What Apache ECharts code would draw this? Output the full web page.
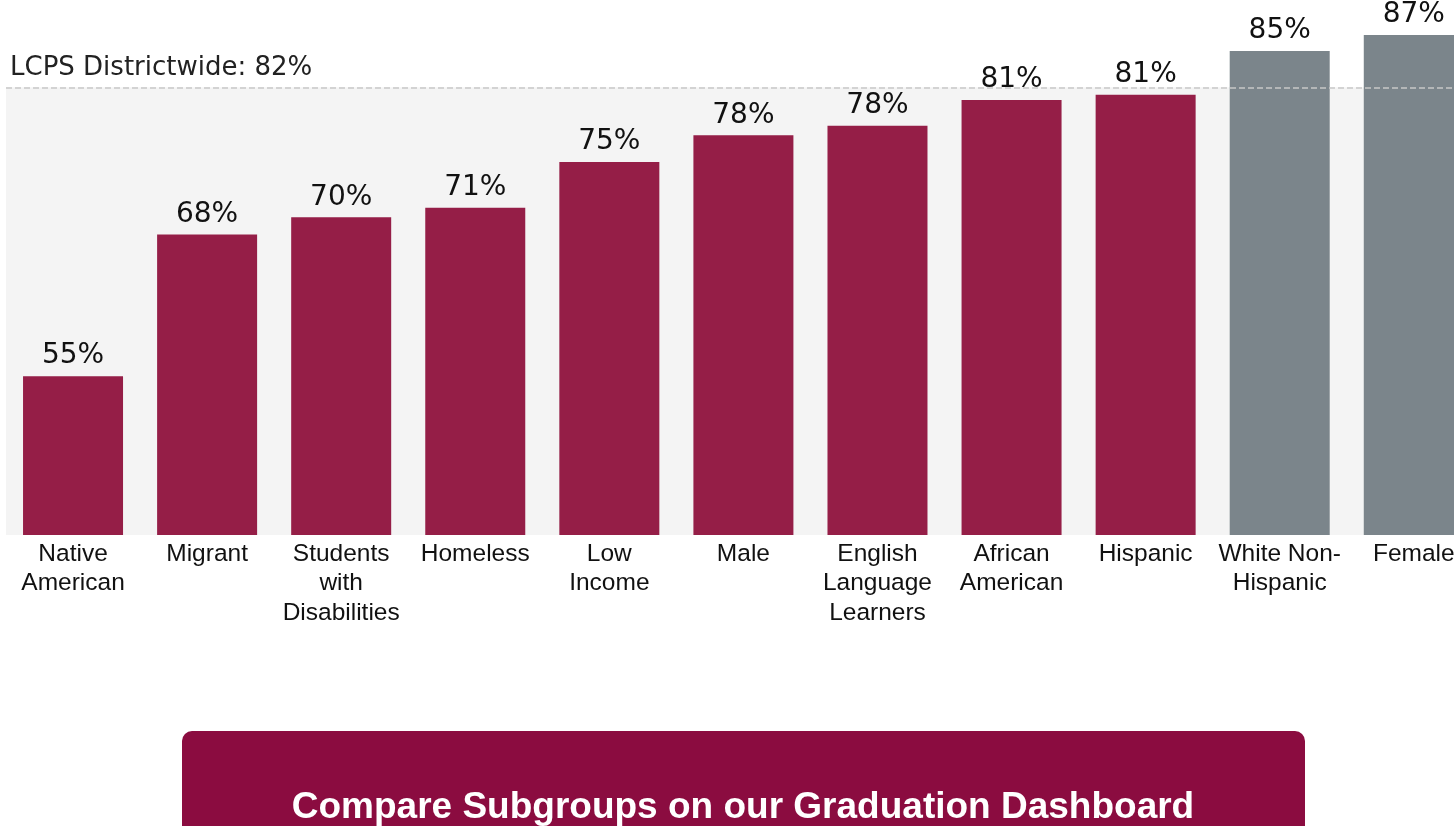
<!DOCTYPE html>
<html>
<head>
<meta charset="utf-8">
<script src="https://cdn.jsdelivr.net/npm/echarts@6/dist/echarts.min.js"></script>
<style>
html,body{margin:0;padding:0;background:#fff;}
#chart{width:1454px;height:826px;}
</style>
</head>
<body>
<div id="chart"></div>
<script>
const categories = ["Native\nAmerican","Migrant","Students\nwith\nDisabilities","Homeless","Low\nIncome","Male","English\nLanguage\nLearners","African\nAmerican","Hispanic","White Non-\nHispanic","Female"];
const values = [54.9, 68.2, 69.8, 70.7, 75.0, 77.5, 78.4, 80.8, 81.3, 85.4, 86.9];
const highlight = [false,false,false,false,false,false,false,false,false,true,true];
const districtwide = 82;
const yMin = 40, yMax = 90;

const MAROON = '#951e47', GRAY = '#7b858b';
const chart = echarts.init(document.getElementById('chart'));
chart.setOption({
  animation:false,
  grid:{left:6, top:2, right:0, bottom:291},
  xAxis:{type:'value', min:-0.5, max:10.3, show:false, splitLine:{show:false}},
  yAxis:{type:'value', min:yMin, max:yMax, show:false, splitLine:{show:false}},
  series:[{
    type:'bar', barWidth:100, barGap:'-100%',
    data: values.map((v,i)=>({value:[i,v], itemStyle:{color: highlight[i]?GRAY:MAROON}})),
    label:{show:true, position:'top', distance:6, color:'#111', fontFamily:'DejaVu Sans, sans-serif', fontSize:28,
      formatter:p=>Math.round(p.value[1])+'%'},
    markArea:{silent:true, itemStyle:{color:'#f4f4f4'}, data:[[{yAxis:yMin},{yAxis:districtwide}]]},
    markLine:{silent:true, symbol:'none', label:{show:false},
      lineStyle:{color:'#c8c8c8', type:'dashed', width:1.5}, data:[{yAxis:districtwide}]},
    z:3
  },{
    type:'bar', barWidth:100, barGap:'-100%', silent:true,
    data: values.map((v,i)=>[i,v]),
    itemStyle:{color:'rgba(0,0,0,0)'},
    label:{show:true, position:'bottom', distance:4, color:'#111', fontFamily:'Liberation Sans, Arial, sans-serif', fontSize:24.5, lineHeight:29.5, align:'center',
      formatter:p=>categories[p.dataIndex]},
    z:4
  }],
  graphic:[
    {type:'text', left:10, top:55, style:{text:'LCPS Districtwide: '+districtwide+'%', fill:'#222', font:'26px "DejaVu Sans", sans-serif'}},
    {type:'rect', shape:{x:182, y:731, width:1123, height:140, r:10}, style:{fill:'#8b0c40'}},
    {type:'text', x:743, y:808, style:{text:'Compare Subgroups on our Graduation Dashboard', fill:'#fff', font:'bold 37px "Liberation Sans", Arial, sans-serif', textAlign:'center', textVerticalAlign:'middle'}}
  ]
});
</script>
</body>
</html>
